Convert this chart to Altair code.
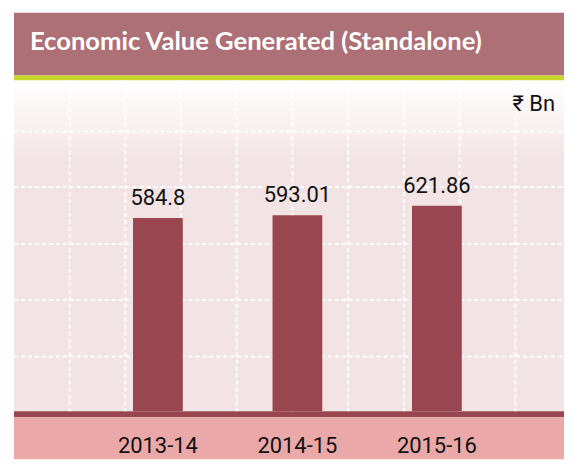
import altair as alt
import pandas as pd

# ---- data ----
years = ["2013-14", "2014-15", "2015-16"]
values = [584.8, 593.01, 621.86]
value_labels = ["584.8", "593.01", "621.86"]
grid_y = [166, 337, 506, 678, 846]
grid_x = [1, 2, 3, 4, 5, 6, 7, 8, 9]
title_text = "Economic Value Generated (Standalone)"
unit_text = "₹ Bn"

W, H = 552, 332
FONT = "Roboto, Noto Sans, sans-serif"
TFONT = "Lato, Roboto, sans-serif"

bars_df = pd.DataFrame({"year": years, "value": values, "label": value_labels})
one = pd.DataFrame({"a": [0]})

xband = alt.X("year:N", sort=years, axis=None,
              scale=alt.Scale(type="band", paddingInner=0.643,
                              paddingOuter=0.793, align=0.538))
yq = alt.Y("value:Q", axis=None, scale=alt.Scale(domain=[0, 1000]))

# ---- decorative bands ----
title_band = alt.Chart(one).mark_rect(color="#AD7077").encode(
    x=alt.value(0), x2=alt.value(W), y=alt.value(-68), y2=alt.value(-5))
lime = alt.Chart(one).mark_rect(color="#C8D52B").encode(
    x=alt.value(0), x2=alt.value(W), y=alt.value(-5), y2=alt.value(0))
plot_bg = alt.Chart(one).mark_rect(
    fill=alt.LinearGradient(
        gradient="linear", x1=0, x2=0, y1=0, y2=1,
        stops=[alt.GradientStop(color="#FFFFFF", offset=0),
               alt.GradientStop(color="#F2E3E4", offset=0.25),
               alt.GradientStop(color="#F2E3E4", offset=1)])
).encode(x=alt.value(0), x2=alt.value(W), y=alt.value(0), y2=alt.value(H))
base_band = alt.Chart(one).mark_rect(color="#9A4650").encode(
    x=alt.value(0), x2=alt.value(W), y=alt.value(H), y2=alt.value(H + 6))
bottom_band = alt.Chart(one).mark_rect(color="#EAA8A8").encode(
    x=alt.value(0), x2=alt.value(W), y=alt.value(H + 6), y2=alt.value(H + 48))

# ---- grid ----
hgrid = alt.Chart(pd.DataFrame({"value": grid_y})).mark_rule(
    color="white", strokeWidth=2, strokeDash=[4, 3]).encode(
    y=yq, x=alt.value(0), x2=alt.value(W))
vgrid = alt.Chart(pd.DataFrame({"g": grid_x})).mark_rule(
    color="white", strokeWidth=2, strokeDash=[4, 3]).encode(
    x=alt.X("g:Q", axis=None, scale=alt.Scale(domain=[0, 9.875])),
    y=alt.value(0), y2=alt.value(H))

# ---- bars and labels ----
bars = alt.Chart(bars_df).mark_bar(color="#9A4650").encode(x=xband, y=yq)
bar_text = alt.Chart(bars_df).mark_text(
    font=FONT, fontSize=22, color="#111111", baseline="alphabetic", dy=-13
).encode(x=xband, y=yq, text="label:N")
cat_text = alt.Chart(bars_df).mark_text(
    font=FONT, fontSize=22, color="#111111", baseline="alphabetic"
).encode(x=xband, y=alt.value(374), text="year:N")
data_layer = alt.layer(hgrid, bars, bar_text, cat_text)

title = alt.Chart(one).mark_text(
    text=title_text, font=TFONT, fontSize=25.7, fontWeight="bold", color="white",
    align="left", baseline="alphabetic"
).encode(x=alt.value(16), y=alt.value(-31))
unit = alt.Chart(one).mark_text(
    text=unit_text, font=FONT, fontSize=22, color="#111111",
    align="right", baseline="alphabetic"
).encode(x=alt.value(543), y=alt.value(31))

chart = alt.layer(
    title_band, lime, plot_bg, base_band, bottom_band,
    vgrid, data_layer, title, unit
).resolve_scale(x="independent").properties(
    width=W, height=H,
    padding={"left": 5, "top": 4, "right": 0, "bottom": 0}
).configure_view(stroke=None)

chart.save("out.html", embed_options={"renderer": "svg", "actions": False})
